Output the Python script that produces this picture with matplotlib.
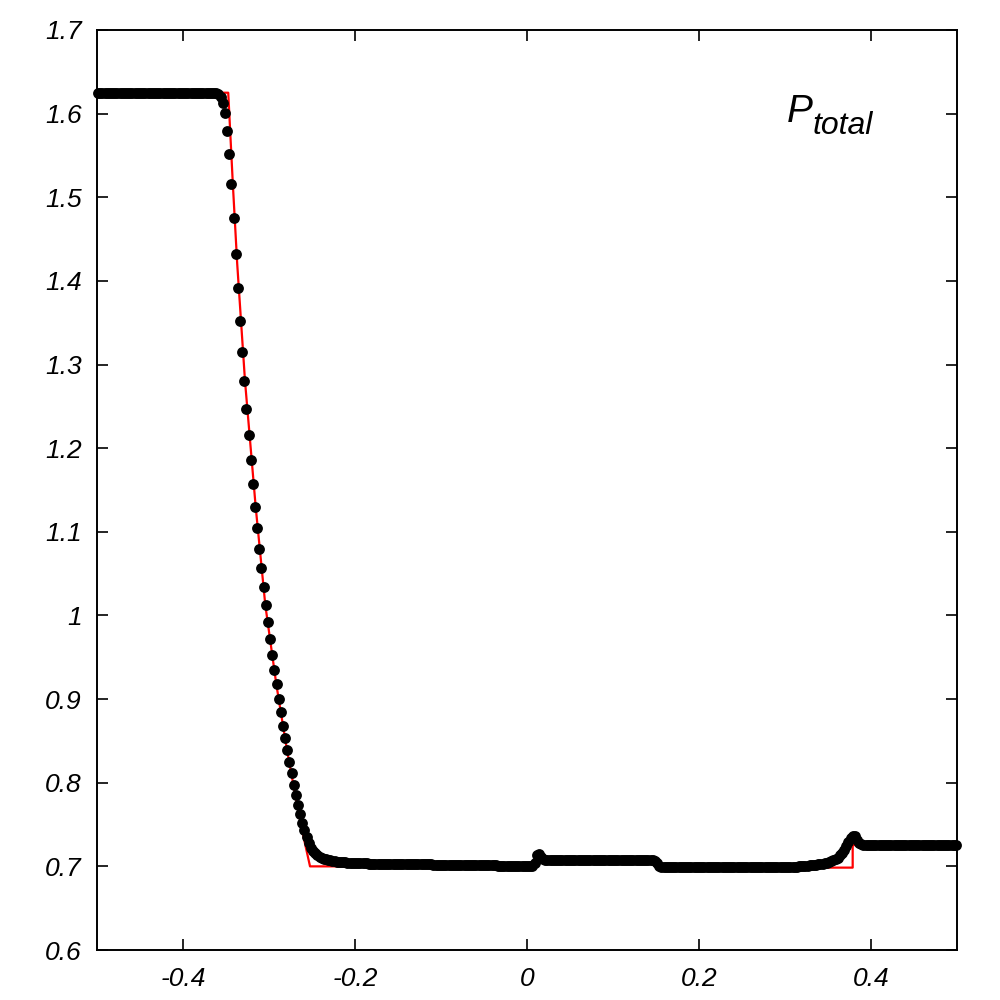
import numpy as np
import matplotlib
matplotlib.use("Agg")
import matplotlib.pyplot as plt

plt.rcParams['font.family'] = ['Liberation Sans', 'DejaVu Sans']

# ---- numerical solution (dots): 400 uniform cells on [-0.5, 0.5] ----
n_cells = 400
x_dots = np.linspace(-0.49875, 0.49875, n_cells)

seg_left = [1.625] * 55
seg_head = [1.6248, 1.6240, 1.6200]
seg_fan = [1.6124, 1.6004, 1.5796, 1.5514, 1.5155, 1.4756, 1.4322, 1.3912,
           1.3517, 1.3154, 1.2803, 1.2468, 1.2158, 1.1853, 1.1572, 1.1300,
           1.1042, 1.0795, 1.0564, 1.0340, 1.0125, 0.9918, 0.9718, 0.9527,
           0.9348, 0.9177, 0.9001, 0.8842, 0.8682, 0.8531, 0.8391, 0.8248,
           0.8113, 0.7976, 0.7850, 0.7737, 0.7622, 0.7522, 0.7435]
seg_tail = [0.7350, 0.7280, 0.7225, 0.7185, 0.7155, 0.7132, 0.7115, 0.7102,
            0.7092, 0.7084, 0.7077, 0.7071, 0.7066, 0.7062, 0.7058, 0.7055,
            0.7052, 0.7049, 0.7047, 0.7045, 0.7043, 0.7041, 0.7039, 0.7037]
seg_flat1 = ([0.7035] * 5 + [0.7033] * 5 + [0.7031] * 5 + [0.7029] * 5 +
             [0.7027] * 5 + [0.7025] * 5 + [0.7023] * 5 + [0.7021] * 5 +
             [0.7019] * 5 + [0.7017] * 5 + [0.7015] * 5 + [0.7013] * 5 +
             [0.7011] * 5 + [0.7009] * 5 + [0.7007] * 5 + [0.7005] * 5)
seg_contact1 = [0.7004, 0.7006, 0.7040, 0.7130, 0.7150, 0.7115, 0.7090, 0.7080]
seg_flat2 = [0.7076] * 50
seg_contact2 = [0.7065, 0.7040, 0.7010, 0.6995]
seg_flat3 = [0.6990] * 30 + [0.6992] * 10 + [0.6994] * 10 + [0.6997] * 13
seg_pre = [0.7000, 0.7002, 0.7004, 0.7006, 0.7008, 0.7011, 0.7014, 0.7017,
           0.7020, 0.7024, 0.7028, 0.7033, 0.7038, 0.7044, 0.7051, 0.7060,
           0.7072, 0.7086, 0.7105, 0.7130, 0.7160, 0.7195, 0.7240, 0.7290,
           0.7335, 0.7365]
seg_post = [0.7360, 0.7320, 0.7280, 0.7262, 0.7256]
seg_right = [0.7255] * 43

p_dots = np.array(seg_left + seg_head + seg_fan + seg_tail + seg_flat1 +
                  seg_contact1 + seg_flat2 + seg_contact2 + seg_flat3 +
                  seg_pre + seg_post + seg_right)
assert len(p_dots) == n_cells

# ---- exact solution (red line) ----
x_exact = [-0.5, -0.3474, -0.3420, -0.3370, -0.3279, -0.3155, -0.3043,
           -0.2915, -0.2791, -0.2694, -0.2613, -0.2523,
           0.0093, 0.0093, 0.151, 0.151, 0.3787, 0.3787, 0.5]
p_exact = [1.625, 1.625, 1.515, 1.421, 1.2803, 1.130, 1.0125,
           0.9177, 0.8391, 0.7850, 0.7420, 0.700,
           0.700, 0.7075, 0.7075, 0.6985, 0.6985, 0.7255, 0.7255]

fig = plt.figure(figsize=(10, 10), dpi=100)
ax = fig.add_axes([0.097, 0.05, 0.86, 0.92])

ax.plot(x_exact, p_exact, color='#ff0000', lw=1.6, zorder=2, clip_on=False)
ax.plot(x_dots, p_dots, 'o', color='black', ms=7.8, mew=0, zorder=3,
        clip_on=False)

ax.set_xlim(-0.5, 0.5)
ax.set_ylim(0.6, 1.7)
ax.set_xticks([-0.4, -0.2, 0, 0.2, 0.4])
ax.set_xticklabels(['-0.4', '-0.2', '0', '0.2', '0.4'])
yt = [0.6, 0.7, 0.8, 0.9, 1.0, 1.1, 1.2, 1.3, 1.4, 1.5, 1.6, 1.7]
ax.set_yticks(yt)
ax.set_yticklabels(['0.6', '0.7', '0.8', '0.9', '1', '1.1', '1.2', '1.3',
                    '1.4', '1.5', '1.6', '1.7'])

ax.tick_params(direction='in', length=8, width=1.2, top=True, right=True,
               labelsize=19, color='black')
ax.tick_params(axis='y', pad=11)
ax.tick_params(axis='x', pad=12)
for lab in ax.get_xticklabels() + ax.get_yticklabels():
    lab.set_fontstyle('italic')
for sp in ax.spines.values():
    sp.set_linewidth(1.4)

fig.text(0.787, 1 - 0.1217, 'P', fontsize=28, fontstyle='italic',
         va='baseline', ha='left')
fig.text(0.813, 1 - 0.1343, 'total', fontsize=23, fontstyle='italic',
         va='baseline', ha='left')

fig.savefig('out.png', dpi=100)
